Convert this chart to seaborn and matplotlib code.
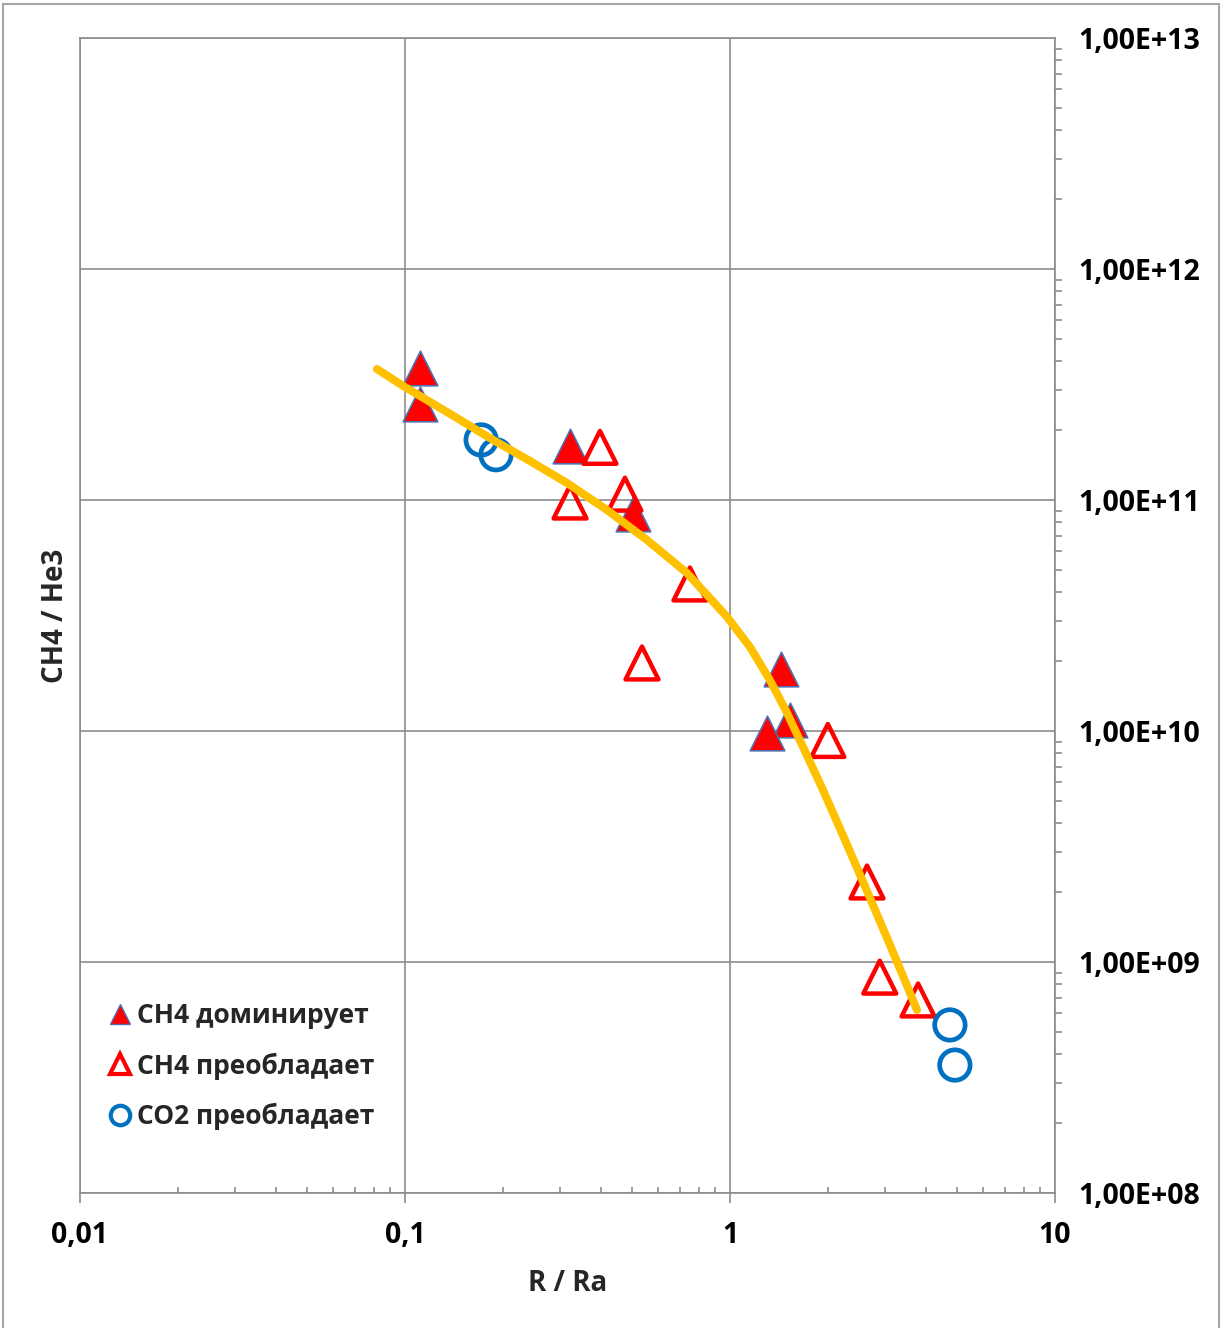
import matplotlib
matplotlib.use("Agg")
import matplotlib.pyplot as plt
from matplotlib.lines import Line2D
from matplotlib.patches import Rectangle
from matplotlib.ticker import FixedLocator, FixedFormatter, LogLocator, NullFormatter
import seaborn as sns
import pandas as pd

# --- data -------------------------------------------------------------
ch4_dom_x = [0.111, 0.111, 0.322, 0.503, 1.435, 1.53, 1.30]
ch4_dom_y = [3.73e11, 2.60e11, 1.71e11, 8.7e10, 1.86e10, 1.12e10, 9.8e9]

ch4_pre_x = [0.398, 0.322, 0.475, 0.753, 0.536, 2.00, 2.64, 2.89, 3.79]
ch4_pre_y = [1.69e11, 9.8e10, 1.06e11, 4.33e10, 1.97e10, 9.1e9, 2.22e9, 8.6e8, 6.85e8]

co2_pre_x = [0.1715, 0.1905, 4.75, 4.92]
co2_pre_y = [1.82e11, 1.57e11, 5.34e8, 3.58e8]

trend_x = [0.0820, 0.0986, 0.1376, 0.1866, 0.2424, 0.3151, 0.4183, 0.5555,
           0.737, 0.979, 1.152, 1.327, 1.497, 1.677, 1.932, 2.258, 2.639,
           3.042, 3.406, 3.762]
trend_y = [3.69e11, 3.12e11, 2.36e11, 1.82e11, 1.475e11, 1.185e11, 9.05e10,
           6.71e10, 4.83e10, 3.12e10, 2.31e10, 1.66e10, 1.20e10, 8.53e9,
           5.56e9, 3.375e9, 2.03e9, 1.27e9, 8.70e8, 6.20e8]

x_ticks = [0.01, 0.1, 1, 10]
x_tick_labels = ["0,01", "0,1", "1", "10"]
y_ticks = [1e8, 1e9, 1e10, 1e11, 1e12, 1e13]
y_tick_labels = ["1,00E+08", "1,00E+09", "1,00E+10", "1,00E+11", "1,00E+12", "1,00E+13"]

series_labels = ["CH4 доминирует", "CH4 преобладает", "CO2 преобладает"]
x_label = "R / Ra"
y_label = "CH4 / He3"

# --- style ------------------------------------------------------------
sns.set_theme(style="white")
plt.rcParams["font.family"] = ["Open Sans", "DejaVu Sans"]
plt.rcParams["font.weight"] = "bold"

TICK_FS = 20.5
LABEL_FS = 20
LEGEND_FS = 19
RED = "#FF0000"
BLUE = "#0070C0"
EDGE_BLUE = "#4F6FB0"
GOLD = "#FFC000"
GRID = "#8C8C8C"

fig = plt.figure(figsize=(12.25, 13.28), dpi=100)
ax = fig.add_axes([80 / 1225, 1 - 1193 / 1328, 975 / 1225, 1155 / 1328])

ax.set_xscale("log")
ax.set_yscale("log")

dom = pd.DataFrame({"x": ch4_dom_x, "y": ch4_dom_y})
pre = pd.DataFrame({"x": ch4_pre_x, "y": ch4_pre_y})
co2 = pd.DataFrame({"x": co2_pre_x, "y": co2_pre_y})
trend = pd.DataFrame({"x": trend_x, "y": trend_y})

sns.scatterplot(data=dom, x="x", y="y", ax=ax, marker="^", s=620,
                color=RED, edgecolor=EDGE_BLUE, linewidth=1.2, zorder=3)
sns.scatterplot(data=pre, x="x", y="y", ax=ax, marker="^", s=560,
                facecolors="none", edgecolor=RED, linewidth=3.2, zorder=3)
sns.scatterplot(data=co2, x="x", y="y", ax=ax, marker="o", s=480,
                facecolors="none", edgecolor=BLUE, linewidth=3.4, zorder=3)
sns.lineplot(data=trend, x="x", y="y", ax=ax, sort=False, estimator=None,
             color=GOLD, linewidth=5.8, solid_capstyle="round",
             solid_joinstyle="round", zorder=4)

ax.set_xlim(0.01, 10)
ax.set_ylim(1e8, 1e13)

# grid and frame
ax.grid(True, which="major", color=GRID, linewidth=1.2)
for side in ["left", "right", "top", "bottom"]:
    ax.spines[side].set_color(GRID)
    ax.spines[side].set_linewidth(1.2)

# x axis
ax.xaxis.set_major_locator(FixedLocator(x_ticks))
ax.xaxis.set_major_formatter(FixedFormatter(x_tick_labels))
ax.xaxis.set_minor_locator(LogLocator(base=10, subs=range(2, 10), numticks=20))
ax.xaxis.set_minor_formatter(NullFormatter())
ax.tick_params(axis="x", which="major", direction="out", length=7, width=1.2,
               color=GRID, pad=13, labelsize=TICK_FS, labelcolor="black", bottom=True)
ax.tick_params(axis="x", which="minor", direction="in", length=4.5, width=1.2,
               color=GRID, bottom=True, top=False)

# y axis on the right
ax.yaxis.tick_right()
ax.yaxis.set_label_position("left")
ax.yaxis.set_major_locator(FixedLocator(y_ticks))
ax.yaxis.set_major_formatter(FixedFormatter(y_tick_labels))
ax.yaxis.set_minor_locator(LogLocator(base=10, subs=range(2, 10), numticks=20))
ax.yaxis.set_minor_formatter(NullFormatter())
ax.tick_params(axis="y", which="major", direction="out", length=0, width=1.2,
               color=GRID, pad=17, labelsize=TICK_FS, labelcolor="black",
               right=True, left=False)
ax.tick_params(axis="y", which="minor", direction="out", length=5, width=1.2,
               color=GRID, right=True, left=False)

ax.set_xlabel(x_label, fontsize=LABEL_FS, fontweight="bold", labelpad=14)
ax.set_ylabel(y_label, fontsize=LABEL_FS, fontweight="bold", labelpad=7)

# legend
handles = [
    Line2D([], [], linestyle="none", marker="^", markersize=15,
           markerfacecolor=RED, markeredgecolor=EDGE_BLUE, markeredgewidth=1.0),
    Line2D([], [], linestyle="none", marker="^", markersize=15,
           markerfacecolor="none", markeredgecolor=RED, markeredgewidth=3.0),
    Line2D([], [], linestyle="none", marker="o", markersize=14,
           markerfacecolor="none", markeredgecolor=BLUE, markeredgewidth=3.0),
]
leg = ax.legend(handles, series_labels, loc="upper left",
                bbox_to_anchor=(94 / 1225, 1 - 989 / 1328),
                bbox_transform=fig.transFigure, frameon=False,
                handlelength=1.0, handletextpad=0.12, labelspacing=0.88,
                borderpad=0, prop={"size": LEGEND_FS, "weight": "bold"})

# outer chart border
fig.patches.append(Rectangle((3 / 1225, -0.01), 1216 / 1225, 1.01 - 4 / 1328,
                             transform=fig.transFigure, fill=False,
                             edgecolor="#A6A6A6", linewidth=1.5))

fig.savefig("out.png", dpi=100, facecolor="white")
